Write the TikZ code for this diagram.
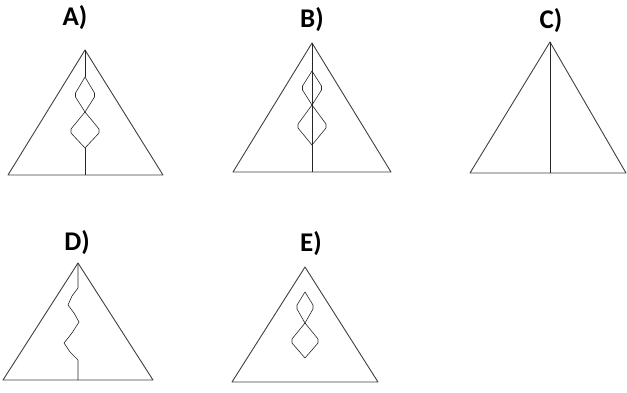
\documentclass[tikz,border=0pt]{standalone}
\usepackage{fontspec}
\setmainfont{Carlito}
\usetikzlibrary{positioning}
% gem: centre x, top y, middle y, bottom y, half width
\newcommand{\gem}[5]{\draw[gemline] (#1,#2) -- (#1+#5,#3-2) -- (#1+#5,#3+2) -- (#1,#4) -- (#1-#5,#3+2) -- (#1-#5,#3-2) -- cycle;}

\begin{document}
\begin{tikzpicture}[x=1pt,y=-1pt,
	tri/.style={draw=black!75, line width=0.9pt, line join=round},
	stem/.style={draw=black!85, line width=0.9pt},
	gemline/.style={draw=black!85, line width=0.6pt, line join=round},
	lab/.style={font=\fontsize{27}{29}\selectfont\bfseries, inner sep=0pt}]
	\useasboundingbox (0,0) rectangle (627,392);
	
	% labels
	\node[lab] (LA) at (75,18) {A)};
	\node[lab] (LB) at (312,20) {B)};
	\node[lab] (LC) at (551,21) {C)};
	\node[lab] (LD) at (77,243) {D)};
	\node[lab] (LE) at (311,244) {E)};
	
	% A
	\draw[tri] (85,50) -- (163,175) -- (8,175) -- cycle;
	\draw[stem] (85,50) -- (85,77);
	\draw[stem] (85,148) -- (85,175);
	\gem{85}{77}{95}{112}{9.5}
	\gem{85}{112}{131}{148}{14}
	
	% B
	\draw[tri] (312,43) -- (391,172) -- (233,172) -- cycle;
	\draw[stem] (312,43) -- (312,172);
	\gem{312}{71}{88}{105}{9.5}
	\gem{312}{105}{126}{145}{14}
	
	% C
	\draw[tri] (550,42) -- (626,173) -- (470,173) -- cycle;
	\draw[stem] (550,42) -- (550,173);
	
	% D
	\draw[tri] (78,263) -- (153,380) -- (3,380) -- cycle;
	\draw[gemline] (78,263) -- (78,288) -- (72,296) -- (68,305) -- (74,313)
		-- (79,322) -- (72,333) -- (64,343) -- (70,352) -- (78,360) -- (78,380);
	
	% E
	\draw[tri] (305,267) -- (378,382) -- (232,382) -- cycle;
	\gem{305}{292}{307}{323}{8}
	\gem{305}{323}{341}{358}{13}
	
\end{tikzpicture}
\end{document}
